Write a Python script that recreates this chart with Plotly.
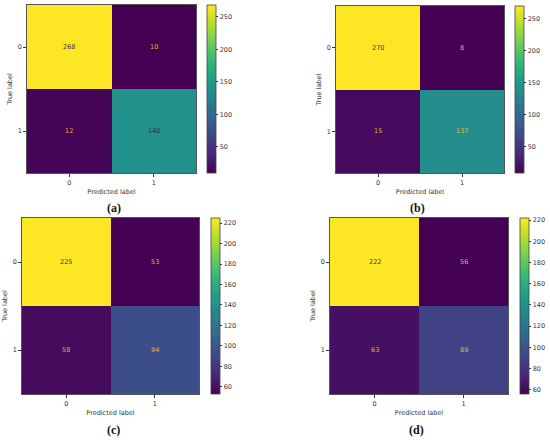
import plotly.graph_objects as go

# confusion matrices
classes = ["0", "1"]
cm_a = [[268, 10], [12, 140]]
cm_b = [[270, 8], [15, 137]]
cm_c = [[225, 53], [58, 94]]
cm_d = [[222, 56], [63, 89]]
panel_labels = ["(a)", "(b)", "(c)", "(d)"]
cb_ticks_ab = [50, 100, 150, 200, 250]
cb_ticks_cd = [60, 80, 100, 120, 140, 160, 180, 200, 220]

W, H = 550, 440

# pixel boxes: heatmap (x0, x1, y0, y1), colorbar left edge
boxes = [
    ((27, 196, 5, 173), 207),
    ((336, 504, 6, 173), 515),
    ((22, 199, 218, 394), 211),
    ((330, 508, 218, 394), 520),
]
mats = [cm_a, cm_b, cm_c, cm_d]
ticks = [cb_ticks_ab, cb_ticks_ab, cb_ticks_cd, cb_ticks_cd]

small = dict(family="DejaVu Sans", size=6.5, color="#333333")

fig = go.Figure()
annotations = []
layout = {}

for i, (cm, ((x0, x1, y0, y1), cbx), tv) in enumerate(zip(mats, boxes, ticks)):
    n = "" if i == 0 else str(i + 1)
    flat = [v for row in cm for v in row]
    zmin, zmax = min(flat), max(flat)
    ydom = [1 - y1 / H, 1 - y0 / H]
    fig.add_trace(go.Heatmap(
        z=cm, x=classes, y=classes,
        colorscale="Viridis", zmin=zmin, zmax=zmax,
        xaxis="x" + n, yaxis="y" + n,
        hovertemplate="True %{y}, Pred %{x}: %{z}<extra></extra>",
        colorbar=dict(
            x=cbx / W, xanchor="left", xref="paper",
            y=sum(ydom) / 2, yanchor="middle",
            len=(y1 - y0) / H, lenmode="fraction",
            thickness=9, thicknessmode="pixels",
            outlinewidth=0.8, outlinecolor="#444444",
            tickvals=tv, ticks="outside", ticklen=2.5, tickwidth=0.6,
            tickcolor="#333333", tickfont=small, xpad=0, ypad=0,
        ),
    ))
    axis_common = dict(
        showline=True, mirror=True, linecolor="#555555", linewidth=0.8,
        ticks="outside", ticklen=3, tickwidth=0.6, tickcolor="#333333",
        tickfont=small, showgrid=False, zeroline=False, fixedrange=True,
    )
    layout["xaxis" + n] = dict(
        domain=[x0 / W, x1 / W], anchor="y" + n,
        title=dict(text="Predicted label", font=small, standoff=3),
        **axis_common,
    )
    layout["yaxis" + n] = dict(
        domain=ydom, anchor="x" + n, autorange="reversed",
        title=dict(text="True label", font=small, standoff=4),
        **axis_common,
    )
    thresh = (zmin + zmax) / 2
    for r, row in enumerate(cm):
        for c, v in enumerate(row):
            annotations.append(dict(
                x=classes[c], y=classes[r], xref="x" + n, yref="y" + n,
                text=str(v), showarrow=False,
                font=dict(family="DejaVu Sans", size=6.5,
                          color="#4b1f55" if v > thresh else "#e8b43c"),
            ))
    label_y = 208 if i < 2 else 430
    annotations.append(dict(
        x=(x0 + x1) / 2 / W + (0.005 if i % 2 == 0 else -0.005),
        y=1 - label_y / H, xref="paper", yref="paper",
        text="<b>" + panel_labels[i] + "</b>", showarrow=False,
        font=dict(family="Liberation Serif", size=12, color="#111111"),
        xanchor="center", yanchor="middle",
    ))

fig.update_layout(
    width=W, height=H,
    margin=dict(l=0, r=0, t=0, b=0),
    paper_bgcolor="white", plot_bgcolor="white",
    annotations=annotations,
    **layout,
)

# page has a default body margin; drop it so the figure fills the window
fig.write_html("out.html", config={"displayModeBar": False},
               post_script="document.body.style.margin='0';")
